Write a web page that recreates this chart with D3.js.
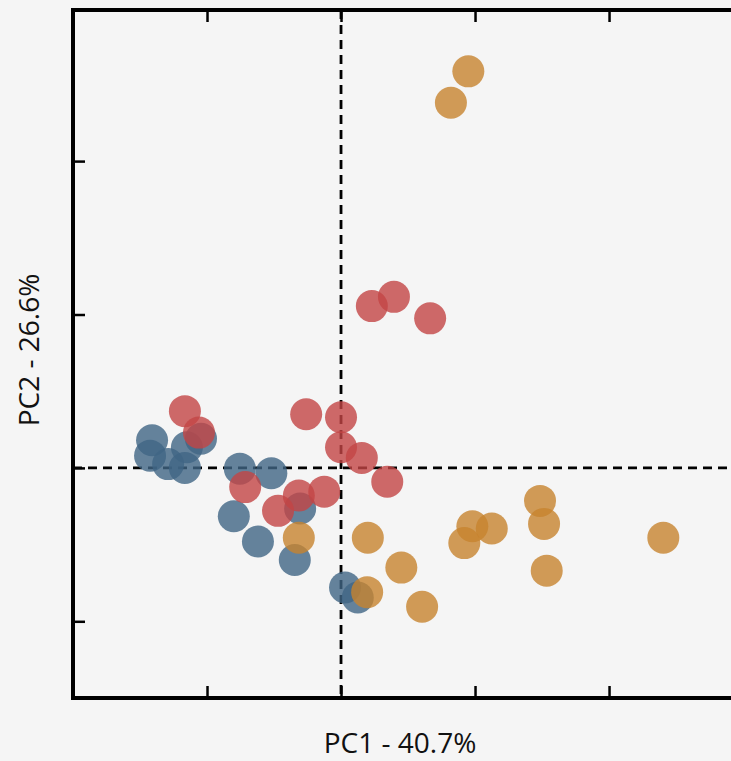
<!DOCTYPE html>
<html>
<head>
<meta charset="utf-8">
<script src="https://cdn.jsdelivr.net/npm/d3@7.9.0/dist/d3.min.js"></script>
<style>
  html, body { margin: 0; padding: 0; background: #f5f5f5; }
  svg { display: block; }
</style>
</head>
<body>
<div id="chart"></div>
<script>
// PCA scores, one array per group: [PC1, PC2]
const blueGroup = [
  [-2.82, 0.36], [-2.85, 0.16], [-2.58, 0.05], [-2.33, 0.00], [-2.30, 0.27],
  [-2.09, 0.38], [-1.51, -0.01], [-1.04, -0.07], [-1.60, -0.63], [-1.24, -0.96],
  [-0.61, -0.53], [-0.69, -1.20], [0.06, -1.56], [0.25, -1.69],
];
const redGroup = [
  [-2.33, 0.74], [-2.12, 0.46], [-0.52, 0.70], [0.00, 0.66], [0.00, 0.27],
  [0.31, 0.13], [0.69, -0.18], [-1.43, -0.25], [-0.63, -0.36], [-0.25, -0.31],
  [-0.94, -0.56], [0.46, 2.11], [0.79, 2.23], [1.33, 1.95],
];
const orangeGroup = [
  [1.90, 5.17], [1.64, 4.76], [2.97, -0.43], [1.96, -0.76], [2.25, -0.79],
  [3.03, -0.73], [1.84, -0.98], [4.81, -0.91], [0.40, -0.91], [0.90, -1.30],
  [3.07, -1.34], [1.21, -1.81], [0.39, -1.62], [-0.63, -0.91],
];
const groups = [
  { name: 'blue',   color: '#406584', points: blueGroup },
  { name: 'red',    color: '#c34545', points: redGroup },
  { name: 'orange', color: '#c7832e', points: orangeGroup },
];
const xTicks = [-2, 0, 2, 4];
const yTicks = [-2, 0, 2, 4];
const xLabel = 'PC1 - 40.7%';
const yLabel = 'PC2 - 26.6%';

const width = 731;
const height = 761;
const area = { left: 73, right: 733, top: 10, bottom: 698 };

const svg = d3.select('#chart').append('svg')
  .attr('width', width)
  .attr('height', height);

const x = d3.scaleLinear().domain([-4, 5.85]).range([area.left, area.right]);
const y = d3.scaleLinear().domain([-3, 5.97]).range([area.bottom, area.top]);

// dashed zero lines
svg.append('line')
  .attr('x1', x(0)).attr('x2', x(0))
  .attr('y1', area.top).attr('y2', area.bottom)
  .attr('stroke', '#000').attr('stroke-width', 2.8).attr('stroke-dasharray', '9,6');
svg.append('line')
  .attr('x1', area.left).attr('x2', area.right)
  .attr('y1', y(0)).attr('y2', y(0))
  .attr('stroke', '#000').attr('stroke-width', 2.8).attr('stroke-dasharray', '9,6');

// points
groups.forEach(g => {
  svg.append('g')
    .attr('class', 'dots ' + g.name)
    .selectAll('circle')
    .data(g.points)
    .join('circle')
    .attr('cx', d => x(d[0]))
    .attr('cy', d => y(d[1]))
    .attr('r', 16)
    .attr('fill', g.color)
    .attr('fill-opacity', 0.8);
});

// axes, ticks pointing inward, no labels
const tickLen = 12;
function styleAxis(sel) {
  sel.selectAll('.domain').remove();
  sel.selectAll('.tick line').attr('stroke', '#000').attr('stroke-width', 2.5);
  sel.selectAll('.tick text').remove();
}
svg.append('g')
  .attr('transform', `translate(0,${area.bottom})`)
  .call(d3.axisTop(x).tickValues(xTicks).tickSize(tickLen))
  .call(styleAxis);
svg.append('g')
  .attr('transform', `translate(0,${area.top})`)
  .call(d3.axisBottom(x).tickValues(xTicks).tickSize(tickLen))
  .call(styleAxis);
svg.append('g')
  .attr('transform', `translate(${area.left},0)`)
  .call(d3.axisRight(y).tickValues(yTicks).tickSize(tickLen))
  .call(styleAxis);

// frame
svg.append('rect')
  .attr('x', area.left).attr('y', area.top)
  .attr('width', area.right - area.left)
  .attr('height', area.bottom - area.top)
  .attr('fill', 'none')
  .attr('stroke', '#000')
  .attr('stroke-width', 4);

// axis titles
svg.append('text')
  .attr('x', 400).attr('y', 753)
  .attr('text-anchor', 'middle')
  .style('font-family', '"Open Sans", sans-serif')
  .style('font-size', '28px')
  .attr('fill', '#111')
  .text(xLabel);
svg.append('text')
  .attr('transform', `translate(39,350) rotate(-90)`)
  .attr('text-anchor', 'middle')
  .style('font-family', '"Open Sans", sans-serif')
  .style('font-size', '28px')
  .attr('fill', '#111')
  .text(yLabel);
</script>
</body>
</html>
